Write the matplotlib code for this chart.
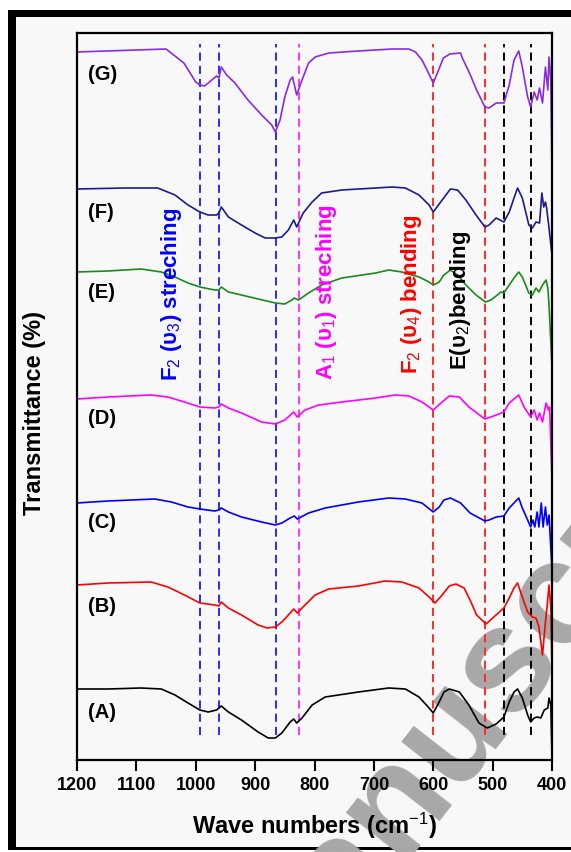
import matplotlib.pyplot as plt
from matplotlib.patches import Rectangle

# Spectra (wavenumber in cm-1, stacked transmittance in arbitrary units)
wn_g = [1200, 1150, 1100, 1050, 1020, 1000, 993, 985, 971, 965, 961, 957, 948, 934, 912, 889, 872, 866, 858, 850,
        841, 837, 830, 821, 810, 799, 776, 726, 669, 641, 630, 619, 608, 600, 591, 583, 572, 554, 551, 539,
        527, 513, 506, 494, 481, 472, 464, 456, 450, 441, 436, 430, 425, 421, 416, 411, 407, 405, 402, 400]
tr_g = [708, 709, 710, 711, 697, 678, 675, 674, 681, 684, 682, 693, 685, 677, 660, 645, 635, 628, 640, 663,
        680, 683, 665, 680, 697, 703, 707, 709, 711, 711, 708, 700, 687, 677, 690, 702, 706, 707, 702, 687,
        670, 653, 652, 657, 657, 675, 700, 709, 693, 663, 653, 668, 660, 672, 657, 693, 670, 703, 680, 587]

wn_f = [1200, 1120, 1064, 1035, 1013, 993, 979, 965, 961, 957, 945, 923, 900, 883, 866, 855, 844, 835, 830, 819,
        804, 788, 754, 697, 669, 647, 624, 607, 600, 585, 571, 559, 545, 528, 513, 506, 494, 481, 472, 464,
        458, 450, 439, 433, 427, 421, 417, 414, 411, 409, 405, 400]
tr_f = [571, 572, 572, 565, 555, 548, 545, 545, 547, 553, 543, 535, 527, 522, 522, 523, 530, 540, 533, 547,
        558, 567, 570, 572, 573, 572, 565, 555, 548, 560, 571, 570, 560, 545, 533, 535, 542, 538, 548, 562,
        572, 562, 535, 532, 538, 537, 567, 553, 558, 552, 532, 505]

wn_e = [1200, 1148, 1092, 1058, 1035, 1013, 993, 968, 961, 957, 945, 923, 895, 866, 850, 838, 834, 827, 810, 788,
        754, 697, 675, 653, 624, 607, 600, 590, 582, 571, 559, 545, 528, 512, 503, 492, 486, 481, 472, 464,
        456, 450, 439, 433, 427, 422, 416, 410, 407, 405, 400]
tr_e = [488, 489, 491, 488, 483, 477, 473, 470, 470, 473, 468, 465, 461, 457, 456, 460, 462, 460, 467, 475,
        482, 487, 490, 488, 483, 478, 475, 478, 485, 490, 485, 475, 465, 458, 460, 465, 468, 467, 475, 482,
        488, 483, 467, 465, 472, 468, 475, 480, 472, 455, 393]

wn_d = [1200, 1148, 1075, 1047, 1019, 993, 968, 961, 957, 945, 923, 889, 866, 850, 835, 829, 816, 793, 754, 697,
        664, 641, 619, 600, 585, 573, 556, 540, 513, 503, 494, 481, 472, 456, 447, 436, 430, 425, 421, 416,
        410, 406, 404, 400]
tr_d = [361, 363, 365, 363, 358, 353, 352, 353, 356, 352, 347, 338, 336, 340, 348, 343, 350, 355, 358, 362,
        365, 364, 358, 350, 358, 364, 363, 353, 341, 343, 345, 348, 357, 365, 353, 343, 350, 340, 347, 338,
        357, 350, 353, 280]

wn_c = [1200, 1148, 1069, 1041, 1013, 993, 968, 961, 957, 945, 923, 889, 866, 855, 841, 834, 829, 810, 782, 726,
        675, 647, 619, 600, 590, 582, 571, 554, 538, 513, 506, 494, 481, 472, 464, 456, 450, 441, 436, 432,
        429, 425, 422, 418, 415, 411, 408, 405, 400]
tr_c = [257, 259, 261, 258, 253, 251, 249, 250, 252, 248, 243, 238, 235, 237, 242, 244, 241, 247, 252, 258,
        262, 261, 257, 248, 253, 260, 262, 257, 247, 239, 240, 243, 244, 252, 257, 262, 252, 240, 233, 240,
        233, 248, 233, 257, 233, 253, 235, 245, 190]

wn_b = [1200, 1148, 1075, 1047, 1019, 993, 968, 961, 957, 945, 923, 895, 880, 866, 855, 844, 835, 829, 816, 799,
        776, 726, 681, 653, 624, 607, 597, 585, 573, 562, 548, 538, 527, 511, 498, 481, 472, 464, 458, 450,
        441, 433, 427, 422, 416, 413, 411, 408, 405, 402, 400]
tr_b = [175, 177, 178, 173, 165, 157, 155, 154, 158, 152, 145, 135, 132, 133, 138, 145, 151, 147, 155, 165,
        171, 174, 179, 178, 172, 163, 157, 165, 174, 176, 172, 160, 145, 136, 143, 152, 162, 172, 177, 163,
        148, 143, 142, 133, 105, 125, 138, 155, 175, 152, 88]

wn_a = [1200, 1148, 1092, 1058, 1035, 1013, 993, 979, 965, 957, 945, 923, 895, 878, 866, 855, 841, 835, 830, 821,
        804, 782, 726, 675, 647, 624, 607, 600, 590, 582, 573, 556, 540, 523, 509, 494, 481, 472, 464, 458,
        450, 441, 436, 430, 425, 419, 413, 407, 405, 402, 400]
tr_a = [71, 71, 72, 71, 65, 57, 50, 48, 50, 54, 48, 40, 28, 22, 22, 27, 38, 41, 37, 42,
        55, 63, 68, 72, 71, 63, 52, 47, 58, 68, 71, 68, 55, 37, 32, 36, 43, 58, 68, 71,
        62, 45, 38, 42, 43, 42, 50, 52, 62, 55, 3]

sample_labels = ["(A)", "(B)", "(C)", "(D)", "(E)", "(F)", "(G)"]
band_wn = [993, 961, 865, 826, 600, 513, 481, 436]
band_colors = ["#2a2aff", "#2a2aff", "#2a2aff", "#ff33ff", "#ff2a2a", "#ff2a2a", "black", "black"]

plt.rcParams["font.family"] = ["Liberation Sans", "DejaVu Sans"]
plt.rcParams["mathtext.fontset"] = "custom"
plt.rcParams["mathtext.rm"] = "Liberation Sans"
plt.rcParams["mathtext.it"] = "Liberation Sans:italic"
plt.rcParams["mathtext.bf"] = "Liberation Sans:bold"

W, H = 571, 852
fig = plt.figure(figsize=(W / 100, H / 100), dpi=100)


def px_rect(x0, y0, x1, y1, color, z):
    return Rectangle((x0 / W, 1 - y1 / H), (x1 - x0) / W, (y1 - y0) / H,
                     transform=fig.transFigure, facecolor=color, edgecolor="none", zorder=z)


# page frame
fig.patches.extend([
    px_rect(8, 10, W + 2, 850, "#f8f8f8", -10),
    px_rect(8, 10, 16, 850, "black", -9),
    px_rect(8, 10, W + 2, 17, "black", -9),
    px_rect(8, 847, W + 2, 850, "black", -9),
])

# watermark of the journal page
fig.text(0.475, -0.202, "Manuscript", rotation=52, rotation_mode="anchor", ha="left", va="baseline",
         fontsize=107, fontweight="bold", color="#a8a8a8", zorder=-5)

ax = fig.add_axes([77 / W, 1 - 760 / H, 475 / W, 727 / H])
ax.set_facecolor("none")

for x, c in zip(band_wn, band_colors):
    ax.axvline(x, ymin=0.035, ymax=0.985, color=c, lw=1.4, dashes=(4.2, 2.6))

curves = [(wn_a, tr_a, "black"), (wn_b, tr_b, "#ff0000"), (wn_c, tr_c, "#0000ff"),
          (wn_d, tr_d, "#ff00ff"), (wn_e, tr_e, "#1a8a1a"), (wn_f, tr_f, "#1c1c8c"),
          (wn_g, tr_g, "#8a2be2")]
for wn, tr, c in curves:
    ax.plot(wn, tr, color=c, lw=1.2)

label_y = [48, 153, 238, 342, 468, 548, 685]
for lab, y in zip(sample_labels, label_y):
    ax.text(1182, y, lab, fontsize=14.5, fontweight="bold", ha="left", va="center")

ax.text(1040, 466, "F$_2$ (υ$_3$) streching", rotation=90, color="#0000ff", fontsize=16,
        fontweight="bold", ha="center", va="center")
ax.text(780, 468, "A$_1$ (υ$_1$) streching", rotation=90, color="#ff00ff", fontsize=16,
        fontweight="bold", ha="center", va="center")
ax.text(637, 466, "F$_2$ (υ$_4$) bending", rotation=90, color="#ff0000", fontsize=16,
        fontweight="bold", ha="center", va="center")
ax.text(554, 460, "E(υ$_2$)bending", rotation=90, color="black", fontsize=16,
        fontweight="bold", ha="center", va="center")

ax.set_xlim(1200, 400)
ax.set_ylim(0, 727)
ax.set_yticks([])
ax.set_xticks(range(1200, 399, -100))
ax.tick_params(axis="x", direction="out", length=8, width=1.5, labelsize=13, pad=4)
for lbl in ax.get_xticklabels():
    lbl.set_fontweight("bold")
for s in ax.spines.values():
    s.set_linewidth(1.6)

ax.set_xlabel("Wave numbers (cm$^{-1}$)", fontsize=17, fontweight="bold")
ax.xaxis.set_label_coords(0.5, -0.07)
ax.set_ylabel("Transmittance (%)", fontsize=17, fontweight="bold")
ax.yaxis.set_label_coords(-0.066, 0.477)

fig.savefig("out.png", dpi=100)
